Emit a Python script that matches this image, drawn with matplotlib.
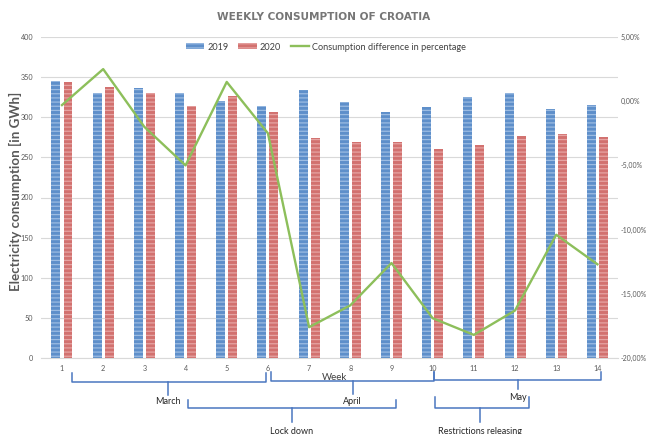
import numpy as np
import matplotlib
matplotlib.use("Agg")
from matplotlib import pyplot as plt
from matplotlib import transforms as mtrans
from matplotlib.patches import Patch
from matplotlib.lines import Line2D

# data
weeks = list(range(1, 15))
cons_2019 = [344.6, 330.0, 337.0, 330.8, 320.4, 314.6, 334.0, 319.0, 307.0, 312.4, 325.6, 330.2, 310.7, 315.3]
cons_2020 = [343.7, 338.3, 330.8, 314.6, 327.0, 307.0, 274.6, 268.6, 269.4, 260.3, 266.0, 276.4, 279.0, 274.8]
diff_pct = [-0.3, 2.5, -2.0, -5.0, 1.5, -2.5, -17.6, -15.9, -12.6, -16.9, -18.2, -16.3, -10.4, -12.7]

# period brackets under the axis: label, start week, end week, centre week
periods = ["March", "April", "May", "Lock down", "Restrictions releasing"]
period_start = [1.235, 6.07, 10.03, 4.07, 10.05]
period_end = [5.95, 10.03, 14.08, 9.1, 12.33]
period_mid = [3.58, 8.06, 12.08, 6.58, 11.16]

W, H = 648, 434
plt.rcParams['font.family'] = ['Lato', 'DejaVu Sans']
plt.rcParams['hatch.linewidth'] = 0.9
fig = plt.figure(figsize=(W / 100, H / 100), dpi=100)
ax = fig.add_axes([41.4 / W, 1 - 358 / H, (618 - 41.4) / W, (358 - 37) / H])
ax2 = ax.twinx()

blue, blue_hatch = "#5E8FCA", "#9CBCE2"
red, red_hatch = "#D2716F", "#E6A4A3"

x = np.array(weeks)
bw = 0.218
ax.bar(x - 0.146, cons_2019, bw, color=blue, edgecolor=blue_hatch, linewidth=0, hatch="----", zorder=2)
ax.bar(x + 0.146, cons_2020, bw, color=red, edgecolor=red_hatch, linewidth=0, hatch="----", zorder=2)
ax2.plot(x, diff_pct, color="#8DBF5B", lw=1.7, zorder=3)

ax.set_xlim(0.5, 14.5)
ax.set_ylim(0, 400)
ax.set_yticks(range(0, 401, 50))
ax2.set_ylim(-20, 5)
ax2.set_yticks(range(-20, 6, 5))
ax2.set_yticklabels([f"{v:.2f}%".replace(".", ",") for v in range(-20, 6, 5)])
ax.set_xticks(weeks)
ax.grid(axis="y", color="#D9D9D9", lw=0.8, zorder=0)
ax.set_axisbelow(True)

for a in (ax, ax2):
    for s in a.spines.values():
        s.set_visible(False)
    a.tick_params(length=0, labelsize=5.2, labelcolor="#595959")
ax.spines["bottom"].set_visible(True)
ax.spines["bottom"].set_color("#D9D9D9")
ax.tick_params(axis="x", pad=5)
ax.tick_params(axis="y", pad=6)
ax2.tick_params(axis="y", pad=2, labelsize=5)

fig.text(15 / W, 1 - 191 / H, "Electricity consumption [in GWh]", rotation=90, ha="center", va="center",
         fontsize=9.6, fontweight="bold", color="#595959")

fig.text(0.5, 1 - 17 / H, "WEEKLY CONSUMPTION OF CROATIA", ha="center", va="center",
         fontsize=7.6, fontweight="bold", color="#767676", family="DejaVu Sans")
fig.text(334 / W, 1 - 377 / H, "Week", ha="center", va="center", fontsize=7, color="#404040")

handles = [Patch(facecolor=blue, edgecolor=blue_hatch, hatch="----", lw=0),
           Patch(facecolor=red, edgecolor=red_hatch, hatch="----", lw=0),
           Line2D([], [], color="#8DBF5B", lw=1.7)]
fig.legend(handles, ["2019", "2020", "Consumption difference in percentage"], loc="center",
           bbox_to_anchor=(0.503, 1 - 47 / H), ncol=3, frameon=False, fontsize=6.6,
           handlelength=2.0, handleheight=0.6, columnspacing=1.1, handletextpad=0.3,
           labelcolor="#404040")

# brackets: x in weeks, y in figure pixels from top
tr = mtrans.blended_transform_factory(ax.transData, fig.transFigure)
tops = [373, 372.3, 371.7, 400, 396.7]
bars_y = [381.7, 381, 380, 408.3, 408.3]
stems = [395, 394.3, 389.3, 421.7, 421.7]
label_y = [402, 402, 398, 431, 431]
fy = lambda p: 1 - p / H
for lab, s, e, m, t, b, st, ly in zip(periods, period_start, period_end, period_mid, tops, bars_y, stems, label_y):
    ax.plot([s, s, e, e], [fy(t), fy(b), fy(b), fy(t)], transform=tr, color="#4A76C0", lw=1.1, clip_on=False)
    ax.plot([m, m], [fy(b), fy(st)], transform=tr, color="#4A76C0", lw=1.1, clip_on=False)
    ax.text(m, fy(ly), lab, transform=tr, ha="center", va="center", fontsize=6.5, color="#262626")

fig.savefig("out.png", dpi=100)
